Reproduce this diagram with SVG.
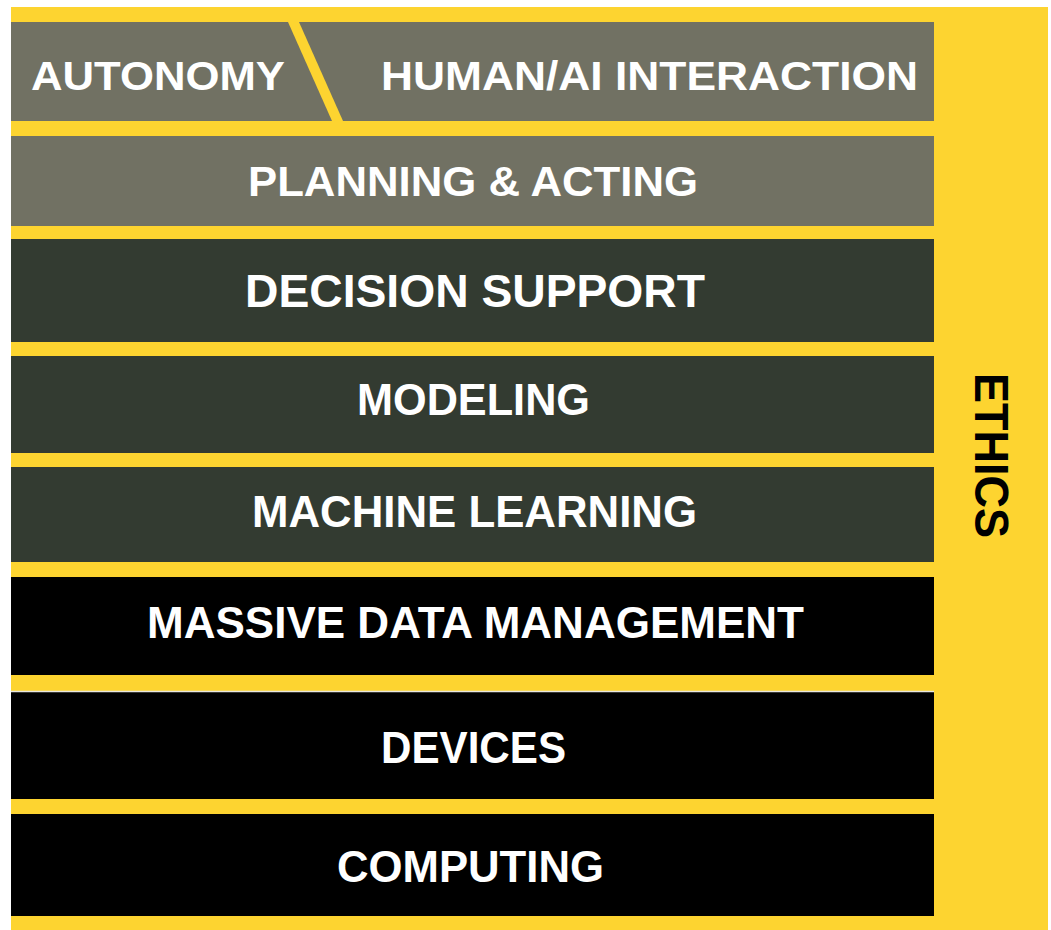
<svg xmlns="http://www.w3.org/2000/svg" width="1051" height="930" viewBox="0 0 1051 930">
  <style>
    .lbl { font-family: "Liberation Sans", Arial, sans-serif; font-weight: bold; fill: #ffffff; text-anchor: middle; }
    .gray { fill: #717163; }
    .dark { fill: #333b31; }
    .black { fill: #000000; }
    .yel { fill: #fdd430; }
  </style>
  <rect x="0" y="0" width="1051" height="930" fill="#ffffff"/>
  <rect id="background" class="yel" x="11" y="7" width="1037" height="923"/>

  <g id="row-autonomy-human">
    <rect class="gray" x="11" y="22" width="923" height="99"/>
    <polygon class="yel" points="288,22 299,22 343,121 332,121"/>
    <text class="lbl" x="158" y="90" font-size="40" textLength="254" lengthAdjust="spacingAndGlyphs">AUTONOMY</text>
    <text class="lbl" x="649.5" y="90" font-size="40" textLength="537" lengthAdjust="spacingAndGlyphs">HUMAN/AI INTERACTION</text>
  </g>

  <g id="planning-acting">
    <rect class="gray" x="11" y="136" width="923" height="90"/>
    <text class="lbl" x="473" y="196" font-size="42" textLength="450" lengthAdjust="spacingAndGlyphs">PLANNING &amp; ACTING</text>
  </g>

  <g id="decision-support">
    <rect class="dark" x="11" y="239" width="923" height="103"/>
    <text class="lbl" x="475" y="307" font-size="46" textLength="460" lengthAdjust="spacingAndGlyphs">DECISION SUPPORT</text>
  </g>

  <g id="modeling">
    <rect class="dark" x="11" y="356" width="923" height="97"/>
    <text class="lbl" x="473.5" y="415" font-size="44" textLength="233" lengthAdjust="spacingAndGlyphs">MODELING</text>
  </g>

  <g id="machine-learning">
    <rect class="dark" x="11" y="467" width="923" height="95"/>
    <text class="lbl" x="474.5" y="527" font-size="44" textLength="445" lengthAdjust="spacingAndGlyphs">MACHINE LEARNING</text>
  </g>

  <g id="massive-data-management">
    <rect class="black" x="11" y="577" width="923" height="98"/>
    <text class="lbl" x="475.5" y="638" font-size="44" textLength="657" lengthAdjust="spacingAndGlyphs">MASSIVE DATA MANAGEMENT</text>
  </g>

  <g id="devices">
    <rect class="black" x="11" y="692" width="923" height="107"/>
    <line x1="11" y1="691.5" x2="934" y2="691.5" stroke="#e8e6df" stroke-width="1.5"/>
    <text class="lbl" x="473.5" y="763" font-size="44" textLength="185" lengthAdjust="spacingAndGlyphs">DEVICES</text>
  </g>

  <g id="computing">
    <rect class="black" x="11" y="814" width="923" height="102"/>
    <text class="lbl" x="470.5" y="882" font-size="44" textLength="267" lengthAdjust="spacingAndGlyphs">COMPUTING</text>
  </g>

  <g id="ethics">
    <text transform="translate(975,455.5) rotate(90)" x="0" y="0" font-family="Liberation Sans, Arial, sans-serif" font-weight="bold" font-size="48" fill="#000000" text-anchor="middle" textLength="165" lengthAdjust="spacingAndGlyphs">ETHICS</text>
  </g>
</svg>
